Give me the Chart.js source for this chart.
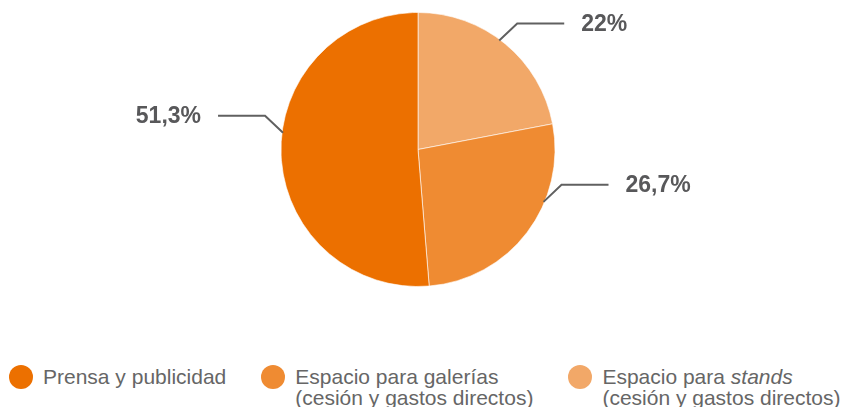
<!DOCTYPE html>
<html>
<head>
<meta charset="utf-8">
<script src="https://cdn.jsdelivr.net/npm/chart.js@4"></script>
<style>
  body { margin: 0; background: #fff; font-family: "Liberation Sans", Arial, sans-serif; }
  #wrap { position: relative; width: 844px; height: 407px; overflow: hidden; }
  #chart { position: absolute; left: 0; top: 0; }
  .legend { position: absolute; left: 9px; top: 366px; display: flex; gap: 35px; color: #666; font-size: 21px; line-height: 21px; }
  .legend-item { display: flex; align-items: flex-start; }
  .dot { width: 24px; height: 24px; border-radius: 50%; margin-right: 10px; flex: none; margin-top: -1px; }
</style>
</head>
<body>
<div id="wrap">
  <canvas id="chart" width="844" height="300"></canvas>
  <div class="legend" id="legend"></div>
</div>
<script>
// categorías y valores (orden de la leyenda)
const categories = [
  "Prensa y publicidad",
  "Espacio para galerías<br>(cesión y gastos directos)",
  "Espacio para <i>stands</i><br>(cesión y gastos directos)"
];
const values = [51.3, 26.7, 22];
const colors = ["#EC7000", "#EF8B32", "#F2A868"];

// dónde sale la línea guía dentro de cada porción (fracción del arco)
const leaderFrac = [0.551, 0.348, 0.463];

// el gráfico empieza arriba con "stands" y gira en sentido horario
const order = [2, 1, 0];

const fmt = (v) => String(v).replace(".", ",") + "%";

const legend = document.getElementById("legend");
categories.forEach((c, i) => {
  const item = document.createElement("div");
  item.className = "legend-item";
  item.innerHTML = `<span class="dot" style="background:${colors[i]}"></span><span>${c}</span>`;
  legend.appendChild(item);
});

const leaderLabels = {
  id: "leaderLabels",
  afterDraw(chart) {
    const ctx = chart.ctx;
    const meta = chart.getDatasetMeta(0);
    meta.data.forEach((arc, j) => {
      const i = order[j];
      const { x, y, startAngle, endAngle, outerRadius } = arc.getProps(["x", "y", "startAngle", "endAngle", "outerRadius"], true);
      const a = startAngle + leaderFrac[i] * (endAngle - startAngle);
      const ax = x + Math.cos(a) * (outerRadius - 1);
      const ay = y + Math.sin(a) * (outerRadius - 1);
      const dir = Math.cos(a) >= 0 ? 1 : -1;
      const ex = ax + dir * 18;
      const ey = ay - 17;
      const hx = ex + dir * 47;

      ctx.save();
      ctx.strokeStyle = "#606060";
      ctx.lineWidth = 2;
      ctx.beginPath();
      ctx.moveTo(ax, ay);
      ctx.lineTo(ex, ey);
      ctx.lineTo(hx, ey);
      ctx.stroke();

      ctx.fillStyle = "#58585a";
      ctx.font = "bold 23px 'Liberation Sans', Arial, sans-serif";
      ctx.textBaseline = "middle";
      ctx.textAlign = dir > 0 ? "left" : "right";
      ctx.fillText(fmt(values[i]), hx + dir * 17, ey + 1);
      ctx.restore();
    });
  }
};

new Chart(document.getElementById("chart"), {
  type: "pie",
  data: {
    labels: order.map((i) => categories[i]),
    datasets: [{
      data: order.map((i) => values[i]),
      backgroundColor: order.map((i) => colors[i]),
      borderColor: "rgba(255,255,255,0.6)",
      borderWidth: 1,
      hoverOffset: 0
    }]
  },
  options: {
    responsive: false,
    animation: false,
    layout: { padding: { top: 12, bottom: 13, left: 0, right: 8 } },
    plugins: { legend: { display: false }, tooltip: { enabled: false } }
  },
  plugins: [leaderLabels]
});
</script>
</body>
</html>
